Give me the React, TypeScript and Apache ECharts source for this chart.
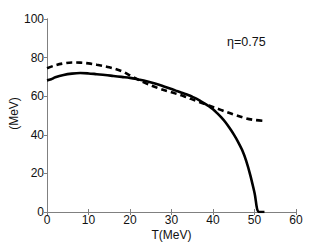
import React, { useEffect, useRef } from "react";
import * as echarts from "echarts";

const solidT = [0, 1, 2, 4, 6, 8, 10, 12, 14, 16, 18, 20, 22, 24, 26, 28, 30, 31, 32, 33, 34, 35, 36, 37, 38, 39, 40, 41, 42, 43, 44, 45, 46, 47, 48, 49, 50, 51.1, 52.4];
const solidV = [68.2, 68.8, 69.8, 71, 71.7, 72, 71.8, 71.4, 71, 70.5, 70, 69.5, 68.7, 67.8, 66.6, 65.2, 63.7, 62.9, 62.2, 61.4, 60.6, 59.7, 58.7, 57.5, 56.2, 54.8, 53.2, 51.2, 49, 46.5, 43.5, 40.2, 36.5, 32.2, 26.5, 19, 10, 0, 0];
const dashT = [0, 2, 4, 6, 8, 10, 12, 15, 18, 20, 23, 27, 30, 33, 36, 39, 42, 45, 48, 50, 52];
const dashV = [74.5, 76, 77, 77.5, 77.4, 77, 76.3, 75, 73, 70.8, 67.5, 64, 62, 60, 57.5, 55.2, 52.8, 50.5, 48.5, 47.7, 47.3];
const xTicks = [0, 10, 20, 30, 40, 50, 60];
const yTicks = [0, 20, 40, 60, 80, 100];
const annotation = "η=0.75";

export default function App() {
  const ref = useRef<HTMLDivElement>(null);
  useEffect(() => {
    if (!ref.current) return;
    const chart = echarts.init(ref.current, undefined, { renderer: "svg" });
    const font = "Liberation Sans, Arial, Helvetica, sans-serif";
    const axisColor = "#808080";
    const xStep = xTicks[1] - xTicks[0];
    const yStep = yTicks[1] - yTicks[0];
    const baseX = {
      type: "value" as const,
      min: xTicks[0],
      max: xTicks[xTicks.length - 1],
      interval: xStep,
      axisLine: { show: true, lineStyle: { color: axisColor, width: 1 } },
      axisTick: { show: true, inside: true, length: 3, lineStyle: { color: axisColor } },
      splitLine: { show: false },
    };
    const baseY = {
      type: "value" as const,
      min: yTicks[0],
      max: yTicks[yTicks.length - 1],
      interval: yStep,
      axisLine: { show: true, lineStyle: { color: axisColor, width: 1 } },
      axisTick: { show: true, inside: true, length: 3, lineStyle: { color: axisColor } },
      splitLine: { show: false },
    };
    chart.setOption({
      animation: false,
      backgroundColor: "#ffffff",
      grid: { left: 43, right: 31, top: 19, bottom: 33, containLabel: false },
      xAxis: [
        {
          ...baseX,
          position: "bottom",
          name: "T(MeV)",
          nameLocation: "middle",
          nameGap: 17,
          nameMoveOverlap: false,
          nameTextStyle: { fontFamily: font, fontSize: 12, color: "#111" },
          axisLabel: { margin: 2, fontFamily: font, fontSize: 12, color: "#111" },
        },
        { ...baseX, position: "top", axisLabel: { show: false } },
      ],
      yAxis: [
        {
          ...baseY,
          position: "left",
          name: "(MeV)",
          nameLocation: "middle",
          nameGap: 27,
          nameMoveOverlap: false,
          nameTextStyle: { fontFamily: font, fontSize: 12, color: "#111", padding: [0, 0, 0, 4] },
          axisTick: { show: true, inside: false, length: 2, lineStyle: { color: axisColor } },
          axisLabel: { margin: 3, fontFamily: font, fontSize: 12, color: "#111" },
        },
        { ...baseY, position: "right", axisLabel: { show: false } },
      ],
      graphic: [
        {
          type: "text",
          left: 227,
          top: 35,
          style: { text: annotation, fontFamily: font, fontSize: 12.5, fill: "#111" },
        },
      ],
      series: [
        {
          type: "line",
          data: solidT.map((t, i) => [t, solidV[i]]),
          showSymbol: false,
          smooth: 0.35,
          lineStyle: { color: "#000", width: 2.6, type: "solid" },
        },
        {
          type: "line",
          data: dashT.map((t, i) => [t, dashV[i]]),
          showSymbol: false,
          smooth: 0.35,
          lineStyle: { color: "#000", width: 2.6, type: [6, 4] },
        },
      ],
    });
    return () => chart.dispose();
  }, []);
  return <div ref={ref} style={{ width: 327, height: 246, position: "absolute", left: 0, top: 0 }} />;
}
